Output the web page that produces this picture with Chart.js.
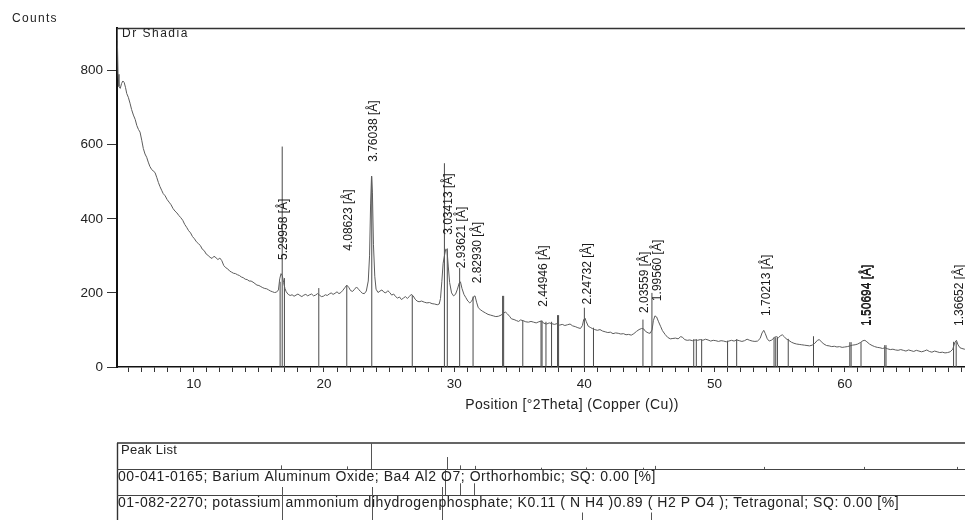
<!DOCTYPE html>
<html>
<head>
<meta charset="utf-8">
<title>Dr Shadia – XRD scan</title>
<script src="https://cdn.jsdelivr.net/npm/chart.js@4.4.1/dist/chart.umd.min.js"></script>
<style>
  html, body { margin: 0; padding: 0; overflow: hidden; background: #fff; }
  canvas { display: block; }
</style>
</head>
<body>
<canvas id="xrd" width="1031" height="520"></canvas>
<script>
// Measured scan: position [°2θ] and intensity [counts]
const scanAngle = [
  4.10,4.13,4.18,4.25,4.35,4.45,4.55,4.65,4.75,4.85,
  4.97,5.10,5.22,5.36,5.50,5.62,5.75,5.87,6.00,6.12,
  6.25,6.38,6.50,6.63,6.75,6.88,7.02,7.15,7.28,7.40,
  7.53,7.65,7.80,7.95,8.10,8.25,8.40,8.55,8.70,8.85,
  9.00,9.15,9.30,9.45,9.60,9.75,9.90,10.05,10.20,10.35,
  10.50,10.65,10.80,10.95,11.10,11.25,11.40,11.55,11.70,11.85,
  12.00,12.15,12.30,12.45,12.60,12.75,12.90,13.05,13.20,13.35,
  13.50,13.65,13.80,13.95,14.10,14.25,14.40,14.55,14.70,14.85,
  15.00,15.15,15.30,15.45,15.60,15.75,15.90,16.05,16.20,16.35,
  16.50,16.60,16.70,16.80,16.90,17.00,17.10,17.25,17.40,17.55,
  17.70,17.85,18.00,18.15,18.30,18.45,18.60,18.75,18.90,19.05,
  19.20,19.35,19.50,19.65,19.80,19.95,20.10,20.25,20.40,20.55,
  20.70,20.85,21.00,21.15,21.30,21.45,21.60,21.75,21.90,22.05,
  22.20,22.35,22.50,22.65,22.80,22.95,23.10,23.25,23.40,23.50,
  23.58,23.65,23.72,23.80,23.90,24.00,24.15,24.30,24.45,24.60,
  24.75,24.90,25.05,25.20,25.35,25.50,25.65,25.80,25.95,26.10,
  26.25,26.40,26.55,26.70,26.85,27.00,27.15,27.30,27.50,27.70,
  27.90,28.10,28.30,28.50,28.70,28.85,28.95,29.05,29.15,29.25,
  29.35,29.45,29.55,29.65,29.80,29.95,30.10,30.25,30.38,30.48,
  30.60,30.75,30.90,31.05,31.20,31.35,31.50,31.60,31.72,31.85,
  32.00,32.20,32.40,32.60,32.80,33.00,33.20,33.40,33.60,33.80,
  33.95,34.10,34.25,34.40,34.60,34.80,34.95,35.10,35.30,35.50,
  35.70,35.90,36.10,36.30,36.50,36.70,36.90,37.10,37.30,37.50,
  37.70,37.90,38.10,38.30,38.50,38.70,38.90,39.10,39.30,39.50,
  39.70,39.85,39.95,40.05,40.15,40.30,40.45,40.60,40.80,41.00,
  41.20,41.40,41.60,41.80,42.00,42.20,42.40,42.60,42.80,43.00,
  43.20,43.40,43.60,43.80,44.00,44.20,44.40,44.55,44.70,44.90,
  45.05,45.20,45.30,45.42,45.55,45.70,45.85,46.00,46.20,46.40,
  46.60,46.80,47.00,47.20,47.40,47.55,47.70,47.90,48.10,48.30,
  48.50,48.70,48.90,49.10,49.30,49.50,49.70,49.90,50.10,50.30,
  50.50,50.70,50.90,51.10,51.30,51.50,51.70,51.90,52.10,52.30,
  52.50,52.70,52.90,53.10,53.30,53.50,53.65,53.78,53.90,54.05,
  54.20,54.40,54.60,54.75,54.90,55.05,55.20,55.35,55.50,55.70,
  55.90,56.10,56.30,56.50,56.70,56.90,57.10,57.30,57.50,57.70,
  57.90,58.05,58.20,58.40,58.60,58.80,59.00,59.20,59.40,59.60,
  59.80,60.00,60.20,60.40,60.60,60.80,61.00,61.20,61.40,61.55,
  61.70,61.90,62.10,62.30,62.50,62.70,62.90,63.10,63.30,63.50,
  63.70,63.90,64.10,64.30,64.50,64.70,64.90,65.10,65.30,65.50,
  65.70,65.90,66.10,66.30,66.50,66.70,66.90,67.10,67.30,67.50,
  67.70,67.90,68.10,68.30,68.45,68.58,68.70,68.85,69.00,69.20,
  69.50,70.00
];
const scanCounts = [
  915,880,790,757,752,765,772,768,755,738,
  728,712,695,680,668,652,641,634,612,590,
  575,566,553,541,534,529,525,512,498,487,
  477,468,462,452,445,438,428,421,416,409,
  403,396,385,377,368,362,352,346,338,333,
  328,318,314,305,301,296,293,299,295,290,
  294,287,274,268,265,259,256,253,252,249,
  247,243,241,237,236,232,232,229,225,221,
  220,217,214,212,211,208,205,203,201,202,
  208,238,252,246,228,212,203,196,193,195,
  191,194,197,193,190,194,196,192,195,197,
  192,194,198,194,190,191,195,193,197,200,
  196,199,203,198,201,207,214,221,215,206,
  204,210,216,210,204,199,198,205,232,300,
  440,515,470,330,245,210,201,205,208,202,
  200,206,201,194,197,190,186,189,182,186,
  190,185,190,196,192,183,178,176,178,175,
  173,174,171,170,168,170,185,230,280,300,
  318,315,270,228,200,192,196,210,226,230,
  212,196,187,178,173,178,190,192,175,160,
  155,150,146,142,140,138,136,137,140,146,
  148,143,137,130,128,125,123,127,125,122,
  121,123,121,119,122,124,118,116,119,117,
  115,117,113,115,112,114,116,111,109,106,
  104,112,128,132,122,110,107,104,101,99,
  101,97,95,93,94,90,92,91,89,90,
  87,88,86,90,96,101,104,103,96,92,
  91,100,125,138,135,122,110,98,88,80,
  76,77,78,76,82,80,74,72,73,71,
  73,72,74,72,75,73,70,72,71,69,
  71,70,68,70,72,70,73,71,69,71,
  75,72,70,69,70,77,92,99,90,76,
  70,73,80,82,79,84,87,82,76,72,
  67,64,62,61,60,59,58,57,59,64,
  72,74,68,62,58,57,55,56,54,55,
  53,54,55,57,59,60,62,66,71,72,
  68,62,58,55,53,52,50,52,49,47,
  48,46,45,47,45,43,46,44,42,45,
  43,41,43,46,42,40,43,41,39,40,
  38,39,41,48,66,72,60,52,50,48,
  46,44
];

// Reference pattern sticks drawn over the scan: position [°2θ], height [counts]
const refAngle  = [16.63,16.79,16.96,19.60,21.75,23.67,26.78,29.25,29.47,30.42,31.45,33.72,33.80,35.27,36.67,36.75,37.05,37.48,37.94,38.02,40.00,40.70,44.50,45.19,48.40,48.60,49.01,51.00,51.70,54.57,54.70,54.83,55.66,57.60,60.39,60.49,61.25,63.07,63.17,68.36,68.56];
const refCounts = [230,595,240,213,220,515,194,550,320,267,190,192,192,126,125,125,122,122,140,140,160,106,128,200,75,75,75,71,75,80,80,80,76,83,67,67,67,59,59,68,68];

// Identified peaks: d-spacing [Å] and peak height [counts]
const peakD      = ['5.29958','4.08623','3.76038','3.03413','2.93621','2.82930','2.44946','2.24732','2.03559','1.99560','1.70213','1.50694','1.36652'];
const peakHeight = [251,276,516,319,229,188,125,131,108,140,100,73,73];
// Relative intensities of the identified peaks (peak list strip, %)
const peakRel    = [14,10,100,46,14,12,5,6,5,12,8,8,8];

// Reference strips below the scan: position [°2θ], relative height [%]
const baAngle = [29.30,30.45,31.50];
const baRel   = [100,45,45];
const kAngle  = [16.75,23.70,29.10,39.80,45.10];
const kRel    = [100,100,100,25,25];

const yTicks = [0,200,400,600,800];
const LAMBDA_CU = 1.5406;   // Cu Kα1 wavelength [Å]

const twoTheta = d => 2 * Math.asin(LAMBDA_CU / (2 * parseFloat(d))) * 180 / Math.PI;

const FONT = "'Liberation Sans', Arial, sans-serif";

const scanPoints = scanAngle.map((a, i) => ({ x: a, y: scanCounts[i] }));
const stickPoints = [];
refAngle.forEach((a, i) => {
  stickPoints.push({ x: a, y: 0 }, { x: a, y: refCounts[i] }, { x: a, y: null });
});

const overlay = {
  id: 'overlay',
  afterDraw(chart) {
    const ctx = chart.ctx;
    const xs = chart.scales.x, ys = chart.scales.y;
    const area = chart.chartArea;
    const W = chart.width;

    ctx.save();
    // frame top edge
    ctx.strokeStyle = '#333';
    ctx.lineWidth = 1.3;
    ctx.beginPath();
    ctx.moveTo(area.left, area.top + 0.5);
    ctx.lineTo(W, area.top + 0.5);
    ctx.stroke();

    ctx.fillStyle = '#222';
    ctx.textBaseline = 'middle';
    ctx.textAlign = 'left';
    ctx.font = '12px ' + FONT;
    ctx.letterSpacing = '1.3px';
    ctx.fillText('Counts', 12, 19);
    ctx.letterSpacing = '1.5px';
    ctx.fillText('Dr Shadia', area.left + 5, area.top + 6);

    ctx.font = '14px ' + FONT;
    ctx.letterSpacing = '0.4px';
    ctx.textAlign = 'center';
    ctx.fillText('Position [°2Theta] (Copper (Cu))', (area.left + area.right) / 2, 405);
    ctx.letterSpacing = '0px';

    // d-spacing labels above the peaks
    ctx.font = '12px ' + FONT;
    ctx.fillStyle = '#1a1a1a';
    ctx.textAlign = 'left';
    peakD.forEach((d, i) => {
      const px = xs.getPixelForValue(twoTheta(d)) + 2.5;
      const py = ys.getPixelForValue(peakHeight[i]) - 14;
      const passes = d === '1.50694' ? [0, 0.8] : [0];
      passes.forEach(off => {
        ctx.save();
        ctx.translate(px + off, py);
        ctx.rotate(-Math.PI / 2);
        ctx.fillText(d + ' [Å]', 0, 0);
        ctx.restore();
      });
    });

    // peak list / reference strips
    const tTop = 443, rowH = 26;
    ctx.strokeStyle = '#333';
    ctx.lineWidth = 1.4;
    ctx.beginPath();
    ctx.moveTo(area.left, tTop);
    ctx.lineTo(W, tTop);
    ctx.moveTo(area.left + 0.5, tTop);
    ctx.lineTo(area.left + 0.5, 520);
    ctx.stroke();
    ctx.lineWidth = 1.1;
    ctx.strokeStyle = '#444';
    ctx.beginPath();
    [tTop + rowH, tTop + 2 * rowH].forEach(y => {
      ctx.moveTo(area.left, y + 0.5);
      ctx.lineTo(W, y + 0.5);
    });
    ctx.stroke();

    ctx.strokeStyle = '#555';
    ctx.lineWidth = 1;
    ctx.beginPath();
    peakD.forEach((d, i) => {
      const px = Math.round(xs.getPixelForValue(twoTheta(d))) + 0.5;
      const bottom = tTop + rowH;
      ctx.moveTo(px, bottom);
      ctx.lineTo(px, bottom - peakRel[i] / 100 * rowH);
    });
    baAngle.forEach((a, i) => {
      const px = Math.round(xs.getPixelForValue(a)) + 0.5;
      const bottom = tTop + 2 * rowH;
      ctx.moveTo(px, bottom);
      ctx.lineTo(px, bottom - baRel[i] / 100 * rowH);
    });
    kAngle.forEach((a, i) => {
      const px = Math.round(xs.getPixelForValue(a)) + 0.5;
      const bottom = tTop + 3 * rowH;
      ctx.moveTo(px, bottom);
      ctx.lineTo(px, bottom - kRel[i] / 100 * (rowH + 8));
    });
    ctx.stroke();

    ctx.fillStyle = '#222';
    ctx.textAlign = 'left';
    ctx.font = '13px ' + FONT;
    ctx.letterSpacing = '0.3px';
    ctx.fillText('Peak List', area.left + 4, tTop + 7);
    ctx.font = '14px ' + FONT;
    ctx.letterSpacing = '0.55px';
    ctx.fillText('00-041-0165; Barium Aluminum Oxide; Ba4 Al2 O7; Orthorhombic; SQ: 0.00 [%]', area.left + 1, tTop + rowH + 8);
    ctx.fillText('01-082-2270; potassium ammonium dihydrogenphosphate; K0.11 ( N H4 )0.89 ( H2 P O4 ); Tetragonal; SQ: 0.00 [%]', area.left + 1, tTop + 2 * rowH + 8);
    ctx.restore();
  }
};

new Chart(document.getElementById('xrd'), {
  type: 'line',
  data: {
    datasets: [
      {
        label: 'scan',
        data: scanPoints,
        borderColor: '#5c5c5c',
        borderWidth: 1,
        pointRadius: 0,
        tension: 0
      },
      {
        label: 'reference',
        data: stickPoints,
        borderColor: '#4a4a4a',
        borderWidth: 1,
        pointRadius: 0,
        tension: 0,
        spanGaps: false
      }
    ]
  },
  options: {
    responsive: false,
    animation: false,
    devicePixelRatio: 1,
    layout: { padding: { left: 0, top: 28, right: 0, bottom: 113 } },
    plugins: { legend: { display: false }, tooltip: { enabled: false }, title: { display: false } },
    scales: {
      x: {
        type: 'linear',
        min: 4.1,
        max: 74,
        afterFit: s => { s.height = 40; },
        border: { color: '#111', width: 1.5 },
        grid: { drawOnChartArea: false, tickLength: 5, color: '#333', tickWidth: 1 },
        ticks: {
          stepSize: 1,
          autoSkip: false,
          maxRotation: 0,
          includeBounds: false,
          padding: 4,
          color: '#222',
          font: { family: FONT, size: 13.5 },
          callback: v => (Math.abs(v % 10) < 1e-6 ? String(v) : '')
        }
      },
      y: {
        min: 0,
        max: 915,
        afterFit: s => { s.width = 117; },
        border: { color: '#111', width: 2 },
        grid: { drawOnChartArea: false, tickLength: 10, color: '#333' },
        afterBuildTicks: s => { s.ticks = yTicks.map(v => ({ value: v })); },
        ticks: {
          padding: 4,
          color: '#222',
          font: { family: FONT, size: 13.5 }
        }
      }
    }
  },
  plugins: [overlay]
});
</script>
</body>
</html>
